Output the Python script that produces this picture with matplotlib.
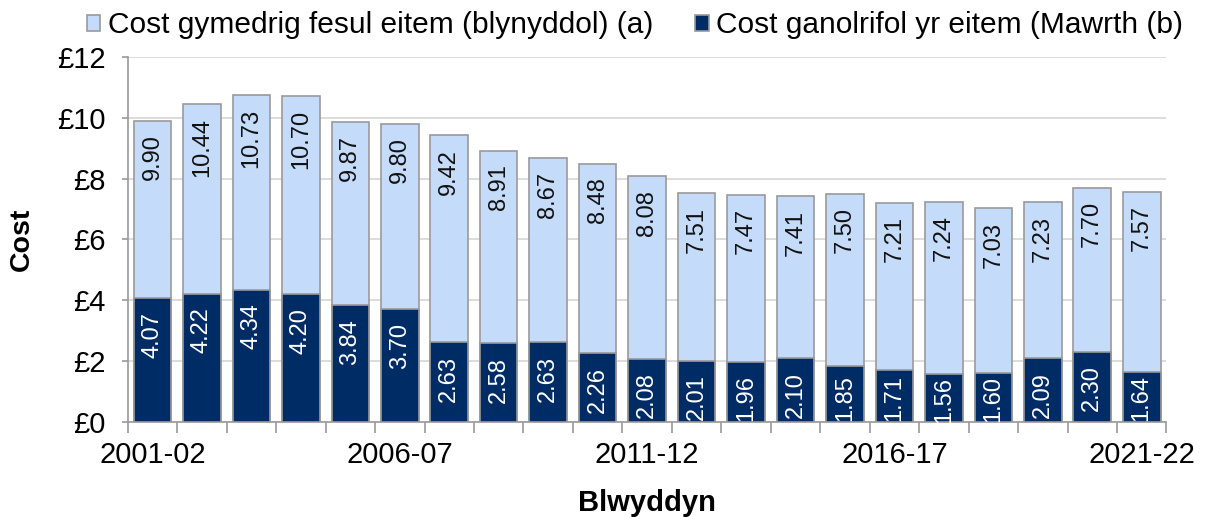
import numpy as np
import matplotlib.pyplot as plt
from matplotlib.ticker import FuncFormatter

plt.rcParams['font.family'] = ['Liberation Sans', 'DejaVu Sans']

years = ['2001-02', '2002-03', '2003-04', '2004-05', '2005-06', '2006-07', '2007-08',
         '2008-09', '2009-10', '2010-11', '2011-12', '2012-13', '2013-14', '2014-15',
         '2015-16', '2016-17', '2017-18', '2018-19', '2019-20', '2020-21', '2021-22']
avg_cost = [9.90, 10.44, 10.73, 10.70, 9.87, 9.80, 9.42, 8.91, 8.67, 8.48, 8.08,
            7.51, 7.47, 7.41, 7.50, 7.21, 7.24, 7.03, 7.23, 7.70, 7.57]
generic_cost = [4.07, 4.22, 4.34, 4.20, 3.84, 3.70, 2.63, 2.58, 2.63, 2.26, 2.08,
                2.01, 1.96, 2.10, 1.85, 1.71, 1.56, 1.60, 2.09, 2.30, 1.64]

light = '#c5dbfa'
dark = '#002c66'
edge = '#9a9a9a'

fig = plt.figure(figsize=(12.05, 5.17), dpi=100)
ax = fig.add_axes([0.106, 0.184, 0.862, 0.706])

x = np.arange(len(years))
b1 = ax.bar(x, avg_cost, width=0.76, color=light, edgecolor=edge, linewidth=1.2,
            label='Cost gymedrig fesul eitem (blynyddol) (a)', zorder=2)
b2 = ax.bar(x, generic_cost, width=0.76, color=dark, edgecolor=edge, linewidth=1.2,
            label='Cost ganolrifol yr eitem (Mawrth (b)', zorder=3)

# labels sit inside the top of each bar; short bars push the label up to the top edge
for i in range(len(x)):
    ax.text(x[i], avg_cost[i] - 0.45, '%.2f' % avg_cost[i], ha='center', va='top',
            rotation=90, fontsize=17, color='#111111', zorder=4)
    top = min(generic_cost[i] - 0.08, max(generic_cost[i] - 0.45, 1.55))
    ax.text(x[i], top, '%.2f' % generic_cost[i], ha='center', va='top',
            rotation=90, fontsize=17, color='white', zorder=4)

ax.set_xlim(-0.5, len(years) - 0.5)
ax.set_ylim(0, 12)
ax.set_yticks(np.arange(0, 13, 2))
ax.yaxis.set_major_formatter(FuncFormatter(lambda v, p: '£%d' % v))
ax.grid(axis='y', color='#d9d9d9', linewidth=1.3, zorder=0)
ax.set_axisbelow(True)

# ticks at category boundaries, labels every 5th year
ax.set_xticks(np.arange(-0.5, len(years), 1))
ax.set_xticklabels([])
ax.set_xticks(x[::5], minor=True)
ax.set_xticklabels([years[i] for i in x[::5]], minor=True)
ax.tick_params(axis='x', which='major', length=8, color=edge, width=1.2)
ax.tick_params(axis='x', which='minor', length=0, labelsize=21, pad=14)
ax.tick_params(axis='y', length=4, color=edge, width=1.2, labelsize=21, pad=12)

for s in ['top', 'right']:
    ax.spines[s].set_visible(False)
for s in ['left', 'bottom']:
    ax.spines[s].set_color(edge)
    ax.spines[s].set_linewidth(1.2)

ax.set_ylabel('Cost', fontsize=20.5, fontweight='bold', labelpad=16)
ax.set_xlabel('Blwyddyn', fontsize=21, fontweight='bold', labelpad=14)

fig.legend(handles=[b1, b2], loc='upper center', bbox_to_anchor=(0.527, 1.03), ncol=2,
           frameon=False, fontsize=21.5, handlelength=0.45, handleheight=0.45,
           handletextpad=0.25, columnspacing=1.4)

fig.savefig('out.png', dpi=100)
